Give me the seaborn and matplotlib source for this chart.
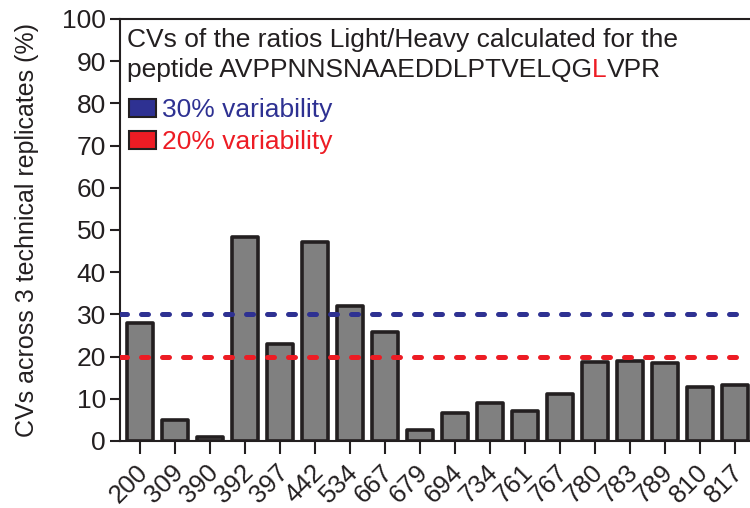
import matplotlib
matplotlib.use("Agg")
import numpy as np
import pandas as pd
import seaborn as sns
import matplotlib.pyplot as plt
import matplotlib.transforms as mtransforms
from matplotlib.patches import Patch

# data
positions = ["200", "309", "390", "392", "397", "442", "534", "667", "679",
             "694", "734", "761", "767", "780", "783", "789", "810", "817"]
cv_values = [28.0, 5.0, 1.0, 48.4, 23.1, 47.2, 32.1, 25.8, 2.6,
             6.6, 9.1, 7.1, 11.1, 18.8, 19.0, 18.6, 12.9, 13.3]
thresholds = [30, 20]
threshold_labels = ["30% variability", "20% variability"]

blue = "#2e3192"
red = "#ed1c24"
dark = "#231f20"

sns.set_style("ticks")
plt.rcParams["font.family"] = ["Liberation Sans", "DejaVu Sans"]

df = pd.DataFrame({"pos": positions, "cv": cv_values})

fig = plt.figure(figsize=(7.5, 5.08), dpi=100)
ax = fig.add_axes([0.16, 0.1319, 0.84, 0.8307])

sns.barplot(data=df, x="pos", y="cv", color="#808080", saturation=1,
            edgecolor=dark, linewidth=2.6, width=0.75, ax=ax, zorder=2)
for p in ax.patches:
    p.set_joinstyle("round")

for val, col in zip(thresholds, [blue, red]):
    ax.axhline(val, color=col, lw=3.6, ls=(0, (1.4, 2.8)),
               dash_capstyle="round", zorder=3)

ax.set_ylim(0, 100)
ax.set_xlim(-0.57, 17.43)
ax.set_yticks(np.arange(0, 101, 10))
ax.set_xlabel("")
ax.set_ylabel("CVs across 3 technical replicates (%)", fontsize=18,
              color=dark, labelpad=17)

ax.tick_params(axis="y", labelsize=19, length=7, width=1.5, colors=dark, pad=3)
ax.tick_params(axis="x", labelsize=18.5, length=9, width=1.5, colors=dark, pad=5)
shift = mtransforms.ScaledTranslation(-0.04, 0, fig.dpi_scale_trans)
for lab in ax.get_xticklabels():
    lab.set_rotation(45)
    lab.set_ha("right")
    lab.set_va("top")
    lab.set_rotation_mode("anchor")
    lab.set_transform(lab.get_transform() + shift)

for s in ["left", "bottom", "top"]:
    ax.spines[s].set_linewidth(1.5)
    ax.spines[s].set_color(dark)
ax.spines["right"].set_visible(False)

# caption text with red L
ax.text(0.011, 0.9336, "CVs of the ratios Light/Heavy calculated for the",
        transform=ax.transAxes, fontsize=19, color=dark, va="baseline", ha="left")
t1 = ax.text(0.011, 0.8626, "peptide AVPPNNSNAAEDDLPTVELQG",
             transform=ax.transAxes, fontsize=19, color=dark, va="baseline", ha="left")
t2 = ax.annotate("L", xy=(1, 0), xycoords=t1, va="bottom", ha="left",
                 fontsize=19, color=red)
ax.annotate("VPR", xy=(1, 0), xycoords=t2, va="bottom", ha="left",
            fontsize=19, color=dark)

handles = [Patch(facecolor=blue, edgecolor=dark, linewidth=1.5),
           Patch(facecolor=red, edgecolor=dark, linewidth=1.5)]
ax.legend(handles, threshold_labels, loc="upper left",
          bbox_to_anchor=(0.014, 0.813), frameon=False, fontsize=19,
          labelcolor=[blue, red], handlelength=1.02, handleheight=0.68,
          handletextpad=0.23, labelspacing=0.31, borderaxespad=0,
          borderpad=0)

fig.savefig("out.png", dpi=100)
